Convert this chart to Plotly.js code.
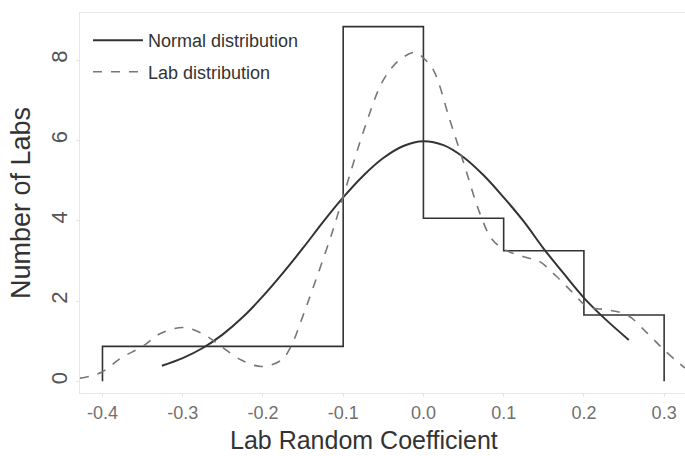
<!DOCTYPE html>
<html>
<head>
<meta charset="utf-8">
<script src="https://cdn.plot.ly/plotly-3.0.1.min.js"></script>
<style>html,body{margin:0;padding:0;background:#fff;}#chart{width:685px;height:456px;}</style>
</head>
<body>
<div id="chart"></div>
<script>
// Histogram (bin edges and heights)
var binEdges = [-0.4, -0.1, 0.0, 0.1, 0.2, 0.3];
var binHeights = [0.87, 8.83, 4.06, 3.25, 1.65];

// Normal distribution curve
var normalX = [-0.326, -0.3, -0.275, -0.25, -0.225, -0.2, -0.175, -0.15, -0.125, -0.1, -0.075, -0.05, -0.025, 0.0, 0.025, 0.05, 0.075, 0.1, 0.125, 0.15, 0.175, 0.2, 0.225, 0.256];
var normalY = [0.39, 0.58, 0.83, 1.17, 1.6, 2.12, 2.7, 3.32, 3.97, 4.58, 5.12, 5.56, 5.86, 5.98, 5.88, 5.58, 5.13, 4.58, 3.98, 3.3, 2.68, 2.08, 1.58, 1.03];

// Lab distribution (density estimate) curve
var labX = [-0.428, -0.421, -0.4, -0.377, -0.35, -0.327, -0.298, -0.273, -0.252, -0.227, -0.202, -0.177, -0.165, -0.152, -0.14, -0.114, -0.1, -0.07, -0.05, -0.03, -0.01, 0.0, 0.0125, 0.033, 0.05, 0.07, 0.085, 0.1, 0.125, 0.145, 0.166, 0.187, 0.204, 0.229, 0.254, 0.279, 0.3, 0.326];
var labY = [0.08, 0.1, 0.24, 0.58, 0.87, 1.2, 1.34, 1.16, 0.87, 0.53, 0.37, 0.53, 0.87, 1.53, 2.19, 3.69, 4.6, 6.5, 7.5, 8.0, 8.19, 8.05, 7.75, 6.5, 5.45, 4.2, 3.55, 3.29, 3.1, 2.98, 2.61, 2.19, 1.86, 1.78, 1.65, 1.2, 0.78, 0.33];

var xTickVals = [-0.4, -0.3, -0.2, -0.1, 0.0, 0.1, 0.2, 0.3];
var xTickText = ['-0.4', '-0.3', '-0.2', '-0.1', '0.0', '0.1', '0.2', '0.3'];
var yTickVals = [0, 2, 4, 6, 8];
var yTickText = ['0', '2', '4', '6', '8'];

var xTitle = 'Lab Random Coefficient';
var yTitle = 'Number of Labs';

// build step outline from the bins
var histX = [binEdges[0]].concat(binEdges);
var histY = [0].concat(binHeights).concat([0]);

var traces = [
  {
    x: histX, y: histY, type: 'scatter', mode: 'lines',
    line: {shape: 'hv', color: '#333333', width: 1.6},
    showlegend: false, hoverinfo: 'skip'
  },
  {
    x: normalX, y: normalY, type: 'scatter', mode: 'lines',
    name: 'Normal distribution', legendgroup: 'a',
    line: {shape: 'spline', color: '#333333', width: 2}
  },
  {
    x: labX, y: labY, type: 'scatter', mode: 'lines',
    name: 'Lab distribution', legendgroup: 'b',
    line: {shape: 'spline', color: '#777777', width: 1.6, dash: 'dash'}
  }
];

var layout = {
  width: 685, height: 456,
  margin: {l: 80, r: 0, t: 13, b: 63},
  paper_bgcolor: '#ffffff', plot_bgcolor: '#ffffff',
  font: {family: 'Liberation Sans, Arial, sans-serif', color: '#333333'},
  showlegend: true,
  legend: {
    x: 0.0132, y: 0.976, xanchor: 'left', yanchor: 'top',
    bgcolor: 'rgba(0,0,0,0)', borderwidth: 0,
    font: {size: 18, color: '#333333'},
    itemwidth: 50, tracegroupgap: 5, traceorder: 'grouped'
  },
  xaxis: {
    range: [-0.428, 0.326],
    tickvals: xTickVals, ticktext: xTickText,
    tickfont: {size: 18, color: '#707070'},
    showgrid: false, zeroline: false,
    showline: true, mirror: true, linecolor: '#e6e6e6', linewidth: 1,
    ticks: 'outside', ticklen: 3, tickcolor: '#e6e6e6'
  },
  yaxis: {
    range: [-0.29, 9.17],
    tickvals: yTickVals, ticktext: yTickText,
    tickangle: -90,
    tickfont: {size: 22, color: '#555555'},
    showgrid: false, zeroline: false,
    showline: true, mirror: true, linecolor: '#e6e6e6', linewidth: 1,
    ticks: 'outside', ticklen: 3, tickcolor: '#e6e6e6',
    title: {text: yTitle, font: {size: 27, color: '#333333'}, standoff: 8}
  },
  annotations: [
    {
      text: xTitle, xref: 'paper', yref: 'paper',
      x: 0.470, y: -0.124, xanchor: 'center', yanchor: 'middle',
      showarrow: false, borderpad: 0, font: {size: 25, color: '#333333'}
    }
  ]
};

Plotly.newPlot('chart', traces, layout, {displayModeBar: false, staticPlot: true});
</script>
</body>
</html>
